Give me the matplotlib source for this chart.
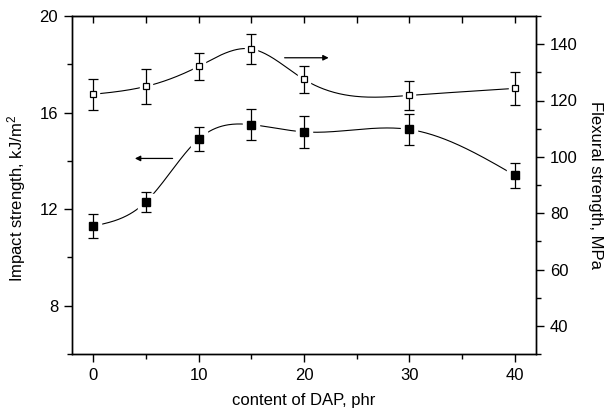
import numpy as np
import matplotlib
matplotlib.use("Agg")
import matplotlib.pyplot as plt
from matplotlib.ticker import MultipleLocator

plt.rcParams['font.family'] = ['Liberation Sans', 'DejaVu Sans']
plt.rcParams['mathtext.fontset'] = 'custom'
plt.rcParams['mathtext.rm'] = 'Liberation Sans'
plt.rcParams['mathtext.it'] = 'Liberation Sans'

# Data
dap = [0, 5, 10, 15, 20, 30, 40]
impact = [11.3, 12.3, 14.9, 15.5, 15.2, 15.3, 13.4]
impact_err = [0.5, 0.4, 0.5, 0.64, 0.65, 0.63, 0.52]
flexural = [122.2, 125.0, 132.1, 138.3, 127.5, 121.8, 124.3]
flexural_err = [5.6, 6.3, 4.8, 5.4, 4.8, 5.0, 5.8]


def natural_spline(x, y, n=400):
    x = np.asarray(x, float)
    y = np.asarray(y, float)
    k = len(x)
    h = np.diff(x)
    A = np.zeros((k, k))
    b = np.zeros(k)
    A[0, 0] = 1
    A[-1, -1] = 1
    for i in range(1, k - 1):
        A[i, i - 1] = h[i - 1]
        A[i, i] = 2 * (h[i - 1] + h[i])
        A[i, i + 1] = h[i]
        b[i] = 6 * ((y[i + 1] - y[i]) / h[i] - (y[i] - y[i - 1]) / h[i - 1])
    M = np.linalg.solve(A, b)
    xs = np.linspace(x[0], x[-1], n)
    ys = np.empty_like(xs)
    for j, xv in enumerate(xs):
        i = min(np.searchsorted(x, xv, side='right') - 1, k - 2)
        t1 = x[i + 1] - xv
        t0 = xv - x[i]
        ys[j] = (M[i] * t1**3 / (6 * h[i]) + M[i + 1] * t0**3 / (6 * h[i])
                 + (y[i] / h[i] - M[i] * h[i] / 6) * t1
                 + (y[i + 1] / h[i] - M[i + 1] * h[i] / 6) * t0)
    return xs, ys


fig = plt.figure(figsize=(6.08, 4.13), dpi=100)
ax = fig.add_axes([72/608, 1-354/413, (536-72)/608, (354-16)/413])
ax2 = ax.twinx()

fs = 12

# Impact strength (left axis)
xs, ys = natural_spline(dap, impact)
ax.plot(xs, ys, color='black', lw=0.8, zorder=1)
ax.plot(dap, impact, ls='none', marker='s', ms=11, mfc='white', mec='white', zorder=2)
ax.errorbar(dap, impact, yerr=impact_err, fmt='none', ecolor='black', elinewidth=0.9,
            capsize=3.5, capthick=0.9, zorder=3)
ax.plot(dap, impact, ls='none', marker='s', ms=6, mfc='black', mec='black', zorder=4)

# Flexural strength (right axis)
xs2, ys2 = natural_spline(dap, flexural)
ax2.plot(xs2, ys2, color='black', lw=0.8, zorder=1)
ax2.plot(dap, flexural, ls='none', marker='s', ms=9, mfc='white', mec='white', zorder=2)
ax2.errorbar(dap, flexural, yerr=flexural_err, fmt='none', ecolor='black', elinewidth=0.9,
             capsize=3.5, capthick=0.9, zorder=3)
ax2.plot(dap, flexural, ls='none', marker='s', ms=4.8, mfc='white', mec='black', mew=0.9, zorder=4)

# Arrows
ax.annotate('', xy=(3.7, 14.1), xytext=(7.8, 14.1),
            arrowprops=dict(arrowstyle='-|>', color='black', lw=0.9, mutation_scale=8))
ax.annotate('', xy=(22.6, 18.27), xytext=(17.9, 18.27),
            arrowprops=dict(arrowstyle='-|>', color='black', lw=0.9, mutation_scale=8))

ax.set_xlim(-2, 42)
ax.set_ylim(6, 20)
ax2.set_ylim(30, 150)

ax.set_xticks([0, 10, 20, 30, 40])
ax.xaxis.set_minor_locator(MultipleLocator(5))
ax.set_yticks([8, 12, 16, 20])
ax.yaxis.set_minor_locator(MultipleLocator(2))
ax2.set_yticks([40, 60, 80, 100, 120, 140])
ax2.yaxis.set_minor_locator(MultipleLocator(10))

for a in (ax, ax2):
    for s in a.spines.values():
        s.set_linewidth(1.0)

ax.tick_params(axis='both', which='major', direction='out', length=6, width=1.0,
               labelsize=fs, pad=4)
ax.tick_params(axis='both', which='minor', direction='out', length=3.5, width=1.0)
ax2.tick_params(axis='y', which='major', direction='out', length=6, width=1.0,
                labelsize=fs, pad=4)
ax2.tick_params(axis='y', which='minor', direction='out', length=3.5, width=1.0)

top = ax.secondary_xaxis('top')
top.set_xticks([0, 5, 10, 15, 20, 25, 30, 35, 40])
top.tick_params(direction='in', length=5, width=1.0, labeltop=False)
top.set_xticklabels([])

ax.set_xlabel('content of DAP, phr', fontsize=fs, labelpad=7)
ax.set_ylabel('Impact strength, kJ/m$^2$', fontsize=fs)
ax.yaxis.set_label_coords(-0.094, 0.46)
ax2.set_ylabel('Flexural strength, MPa', fontsize=fs, rotation=270, labelpad=18)

fig.savefig('out.png', dpi=100)
